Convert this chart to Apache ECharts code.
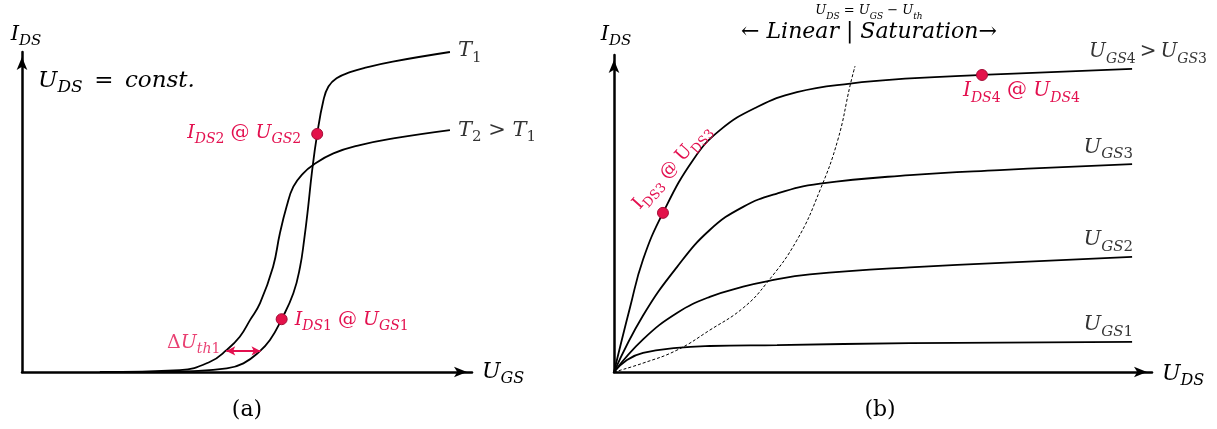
<!DOCTYPE html>
<html>
<head>
<meta charset="utf-8">
<script src="https://cdn.jsdelivr.net/npm/echarts@6/dist/echarts.min.js"></script>
<style>
  html, body { margin: 0; padding: 0; background: #fff; }
  #chart { width: 1217px; height: 429px; }
</style>
</head>
<body>
<div id="chart"></div>
<script>
// MOSFET characteristics, arbitrary units (0–100 on every axis).

// (a) transfer characteristic I_DS(U_GS) at constant U_DS, two temperatures
const transferT1 = [[21.8,0],[38.1,0.3],[45.5,1.1],[49.2,2.7],[52.7,6.3],[55.1,10.0],[57.7,16.5],[60.3,24.6],
  [61.8,32.9],[62.7,41.3],[63.6,51.7],[64.4,62.1],[65.6,74.4],[67.0,85.0],[68.1,89.2],[69.9,91.8],
  [72.9,93.7],[76.6,95.2],[82.4,97.0],[95.1,100]];
const transferT2 = [[17.3,0],[35.1,0.6],[41.8,3.2],[45.5,6.9],[48.4,11.0],[50.7,16.3],[52.9,21.5],[55.8,32.9],
  [57.3,43.3],[58.8,51.7],[60.3,57.9],[62.5,62.1],[64.7,64.7],[69.2,68.3],[75.1,70.9],[82.5,73.0],[95.1,75.6]];
// operating points on the T1 curve: I_DS1 @ U_GS1, I_DS2 @ U_GS2
const transferPoints = [[57.7,16.5],[65.6,74.4]];
// threshold shift ΔU_th1 between T2 and T1, read at a low current level
const thresholdShift = [45.4, 53.0];
const thresholdLevel = 6.6;

// (b) output characteristic I_DS(U_DS) for four gate voltages
const outputUgs1 = [[0,0],[2.4,3.8],[5.4,6.0],[11.7,7.6],[17.8,8.2],[30.3,8.5],[55.0,9.1],[96.3,9.5]];
const outputUgs2 = [[0,0],[5.4,10.3],[11.7,18.6],[17.8,23.7],[24.0,26.9],[28.4,28.6],[36.4,30.8],[55.0,33.0],[96.3,36.3]];
const outputUgs3 = [[0,0],[5.4,17.8],[11.7,33.1],[17.8,44.8],[24.0,52.1],[30.3,56.3],[38.3,59.4],[55.0,62.1],[71.7,63.7],[96.3,65.6]];
const outputUgs4 = [[0,0],[3.0,20.5],[5.4,35.5],[9.1,50.2],[14.7,66.9],[19.7,76.3],[26.6,83.6],[34.0,88.3],
  [43.9,91.0],[55.0,92.6],[68.4,93.7],[96.3,95.6]];
// boundary U_DS = U_GS − U_th between linear and saturation region
const saturationBoundary = [[0,0],[5.4,2.8],[11.7,6.9],[17.8,13.2],[24.0,20.2],[28.4,28.1],[34.0,41.6],[38.3,57.4],
  [41.6,73.2],[43.9,90.5],[44.8,96.5]];
// operating points on U_GS4: I_DS3 @ U_DS3 (linear), I_DS4 @ U_DS4 (saturation)
const outputPoints = [[9.1,50.2],[68.4,93.7]];

const INK = '#000000';
const PINK = '#e3104f';
const DOT = '#e3124a';
const SERIF = '"DejaVu Serif", "Liberation Serif", serif';

// rich-text styles for symbols with subscripts: m = italic, u = upright, s = italic subscript, d = upright subscript
function richStyles(size, color, prefix) {
  const p = prefix || '';
  const lh = size + 4;
  const subSize = Math.round(size * 0.72);
  const subLh = Math.round(size * 0.5 + 4);
  const base = { fontFamily: SERIF, color: color, fill: color };
  const r = {};
  r[p + 'm'] = Object.assign({}, base, { fontStyle: 'italic', fontSize: size, lineHeight: lh, verticalAlign: 'top' });
  r[p + 'u'] = Object.assign({}, base, { fontSize: size, lineHeight: lh, verticalAlign: 'top' });
  r[p + 's'] = Object.assign({}, base, { fontStyle: 'italic', fontSize: subSize, lineHeight: subLh, verticalAlign: 'bottom' });
  r[p + 'd'] = Object.assign({}, base, { fontSize: subSize, lineHeight: subLh, verticalAlign: 'bottom' });
  return r;
}
function sym(main, sub, digit, prefix) {
  const p = prefix || '';
  return '{' + p + 'm|' + main + '}' + (sub ? '{' + p + 's|' + sub + '}' : '') + (digit ? '{' + p + 'd|' + digit + '}' : '');
}
function up(text, prefix) { return '{' + (prefix || '') + 'u|' + text + '}'; }

function axisBase(gridIndex) {
  return {
    gridIndex: gridIndex, type: 'value', min: 0, max: 100,
    axisLine: { show: true, onZero: false, symbol: ['none', 'arrow'], symbolSize: [8, 13], symbolOffset: [0, -5],
      lineStyle: { color: INK, width: 2.5 } },
    axisTick: { show: false }, axisLabel: { show: false }, splitLine: { show: false },
    nameMoveOverlap: false
  };
}

function curve(gridIndex, data, extra) {
  return Object.assign({
    type: 'line', xAxisIndex: gridIndex, yAxisIndex: gridIndex, data: data,
    smooth: 0.45, symbol: 'none', clip: false, silent: true,
    lineStyle: { color: INK, width: 1.8 }, z: 3
  }, extra || {});
}

function tag(gridIndex, point, formatter, rich, label) {
  return {
    type: 'scatter', xAxisIndex: gridIndex, yAxisIndex: gridIndex, data: [point],
    symbolSize: 0, silent: true, z: 6,
    label: Object.assign({ show: true, formatter: formatter, rich: rich }, label)
  };
}

const dotStyle = { color: DOT, borderColor: '#a50d37', borderWidth: 1, opacity: 1 };

const last = function (arr) { return arr[arr.length - 1]; };

const option = {
  animation: false,
  backgroundColor: '#ffffff',
  grid: [
    { left: 22, top: 52, width: 450, height: 320, outerBoundsMode: 'none' },
    { left: 614, top: 55, width: 538, height: 317, outerBoundsMode: 'none' }
  ],
  xAxis: [
    Object.assign(axisBase(0), { name: sym('U', 'GS'), nameLocation: 'end', nameGap: 10,
      nameTextStyle: { rich: richStyles(22, INK), verticalAlign: 'middle', align: 'left', padding: [4, 0, 0, 0] } }),
    Object.assign(axisBase(1), { name: sym('U', 'DS'), nameLocation: 'end', nameGap: 10,
      nameTextStyle: { rich: richStyles(22, INK), verticalAlign: 'middle', align: 'left', padding: [8, 0, 0, 0] } })
  ],
  yAxis: [
    Object.assign(axisBase(0), { name: sym('I', 'DS'), nameLocation: 'end', nameGap: 3,
      nameTextStyle: { rich: richStyles(21, INK), align: 'center', padding: [0, 0, 0, 8] } }),
    Object.assign(axisBase(1), { name: sym('I', 'DS'), nameLocation: 'end', nameGap: 6,
      nameTextStyle: { rich: richStyles(21, INK), align: 'center', padding: [0, 0, 0, 4] } })
  ],
  series: [
    // (a)
    curve(0, transferT1),
    curve(0, transferT2, {
      markLine: {
        silent: true, symbol: ['arrow', 'arrow'], symbolSize: [7, 9],
        lineStyle: { color: PINK, width: 2, type: 'solid' }, label: { show: false },
        emphasis: { disabled: true },
        data: [[{ coord: [thresholdShift[0], thresholdLevel] }, { coord: [thresholdShift[1], thresholdLevel] }]]
      }
    }),
    {
      type: 'scatter', xAxisIndex: 0, yAxisIndex: 0, symbolSize: 11, itemStyle: dotStyle, z: 5, silent: true,
      data: [
        { value: transferPoints[0], label: { show: true, position: 'right', distance: 7, offset: [0, 3],
          formatter: sym('I', 'DS', '1') + up(' @ ') + sym('U', 'GS', '1'), rich: richStyles(19, PINK) } },
        { value: transferPoints[1], label: { show: true, position: 'left', distance: 10, offset: [0, 1],
          formatter: sym('I', 'DS', '2') + up(' @ ') + sym('U', 'GS', '2'), rich: richStyles(19, PINK) } }
      ]
    },
    tag(0, last(transferT1), sym('T', '', '1'), richStyles(21, INK), { position: 'right', distance: 8, offset: [0, 1] }),
    tag(0, last(transferT2), sym('T', '', '2') + up(' > ') + sym('T', '', '1'), richStyles(21, INK),
      { position: 'right', distance: 8, offset: [0, 2] }),
    tag(0, [thresholdShift[0], thresholdLevel], up('Δ') + sym('U', 'th', '1'), richStyles(19, PINK),
      { position: 'left', distance: 6, offset: [0, -6] }),

    // (b)
    curve(1, outputUgs1),
    curve(1, outputUgs2),
    curve(1, outputUgs3),
    curve(1, outputUgs4),
    curve(1, saturationBoundary, { lineStyle: { color: INK, width: 1, type: [3, 2] }, z: 2 }),
    {
      type: 'scatter', xAxisIndex: 1, yAxisIndex: 1, symbolSize: 11, itemStyle: dotStyle, z: 5, silent: true,
      data: [
        // offset is applied in the label's rotated frame
        { value: outputPoints[0], label: { show: true, position: 'inside', rotate: 48, align: 'center', verticalAlign: 'middle',
          offset: [40, -22], formatter: up('I') + '{d|DS3}' + up(' @ U') + '{d|DS3}', rich: richStyles(18, PINK) } },
        { value: outputPoints[1], label: { show: true, position: 'inside', align: 'left', verticalAlign: 'middle',
          offset: [-19, 18], formatter: sym('I', 'DS', '4') + up(' @ ') + sym('U', 'DS', '4'), rich: richStyles(20, PINK) } }
      ]
    },
    tag(1, last(outputUgs1), sym('U', 'GS', '1'), richStyles(21, INK),
      { position: 'inside', align: 'right', verticalAlign: 'middle', offset: [1, -15] }),
    tag(1, last(outputUgs2), sym('U', 'GS', '2'), richStyles(21, INK),
      { position: 'inside', align: 'right', verticalAlign: 'middle', offset: [1, -15] }),
    tag(1, last(outputUgs3), sym('U', 'GS', '3'), richStyles(21, INK),
      { position: 'inside', align: 'right', verticalAlign: 'middle', offset: [1, -15] }),
    tag(1, last(outputUgs4), sym('U', 'GS', '4') + up('\u2009>\u2009') + sym('U', 'GS', '3'), richStyles(20, INK),
      { position: 'inside', align: 'left', verticalAlign: 'middle', offset: [-43, -15] })
  ],
  graphic: [
    { type: 'text', x: 38, y: 83, silent: true,
      style: { text: sym('U', 'DS') + up('\u2002=\u2002') + '{m|const.}', rich: richStyles(23, INK), align: 'left', verticalAlign: 'middle' } },
    { type: 'text', x: 869, y: 4, silent: true,
      style: {
        text: sym('U', 'DS', '', 'a') + up(' = ', 'a') + sym('U', 'GS', '', 'a') + up(' − ', 'a') + sym('U', 'th', '', 'a') + '\n' +
              up('← ', 'b') + '{bm|Linear}' + up(' | ', 'b') + '{bm|Saturation}' + up('→', 'b'),
        rich: Object.assign({}, richStyles(13, INK, 'a'), richStyles(22, INK, 'b')),
        align: 'center', verticalAlign: 'top'
      } },
    { type: 'text', x: 247, y: 410, silent: true,
      style: { text: '(a)', fontFamily: SERIF, fontSize: 22, fill: INK, align: 'center', verticalAlign: 'middle' } },
    { type: 'text', x: 880, y: 410, silent: true,
      style: { text: '(b)', fontFamily: SERIF, fontSize: 22, fill: INK, align: 'center', verticalAlign: 'middle' } }
  ]
};

const chart = echarts.init(document.getElementById('chart'), null, { renderer: 'canvas' });
chart.setOption(option);
</script>
</body>
</html>
